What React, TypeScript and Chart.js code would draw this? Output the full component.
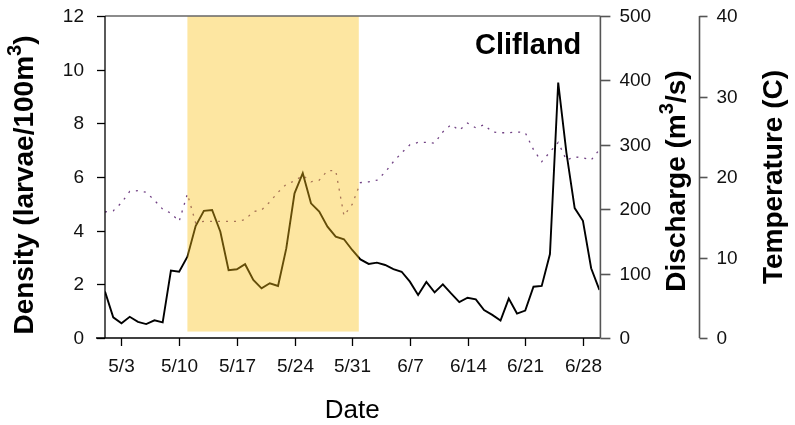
import { useEffect, useRef } from "react";
import { Chart, registerables } from "chart.js";

Chart.register(...registerables);

// Daily series starting on 5/1 (day 0) through 6/30 (day 60)
const density = [
  1.73, 0.77, 0.55, 0.79, 0.6, 0.52, 0.66, 0.58, 2.51, 2.47,
  3.03, 4.17, 4.74, 4.77, 3.96, 2.53, 2.56, 2.75, 2.16, 1.85,
  2.04, 1.94, 3.34, 5.39, 6.14, 5.02, 4.71, 4.15, 3.78, 3.68,
  3.28, 2.93, 2.76, 2.81, 2.72, 2.57, 2.47, 2.1, 1.6, 2.09,
  1.7, 2.0, 1.66, 1.34, 1.5, 1.44, 1.04, 0.86, 0.65, 1.47,
  0.91, 1.02, 1.91, 1.94, 3.13, 9.52, 6.9, 4.84, 4.37, 2.6,
  1.79,
];

const temperature = [
  15.65, 15.8, 16.8, 18.2, 18.3, 18.1, 17.1, 16.0, 15.5, 14.5,
  17.9, 14.3, 14.5, 14.5, 14.5, 14.5, 14.5, 14.7, 15.7, 15.9,
  16.9, 18.1, 19.1, 19.5, 20.2, 19.4, 19.6, 20.8, 20.8, 15.2,
  16.6, 19.3, 19.4, 19.6, 20.6, 21.9, 23.0, 24.0, 24.3, 24.3,
  24.2, 25.6, 26.5, 25.8, 26.7, 26.1, 26.5, 25.6, 25.5, 25.5,
  25.6, 25.5, 23.4, 21.9, 23.1, 24.3, 22.1, 22.5, 22.4, 22.1,
  23.4,
];

const dateTickDays = [2, 9, 16, 23, 30, 37, 44, 51, 58];
const dateTickLabels = ["5/3", "5/10", "5/17", "5/24", "5/31", "6/7", "6/14", "6/21", "6/28"];
const densityTicks = [0, 2, 4, 6, 8, 10, 12];
const dischargeTicks = [0, 100, 200, 300, 400, 500];
const temperatureTicks = [0, 10, 20, 30, 40];

// Sampling window highlighted behind the series (days since 5/1, discharge units)
const windowStartDay = 10;
const windowEndDay = 30.8;
const windowBottom = 10;
const windowTop = 500;

const siteName = "Clifland";

const FONT = '"Liberation Sans", Arial, Helvetica, sans-serif';

type Part = { text: string; sup?: boolean };

function drawVerticalTitle(
  ctx: CanvasRenderingContext2D,
  parts: Part[],
  baselineX: number,
  centerY: number,
  size: number
) {
  const supSize = size * 0.72;
  ctx.save();
  ctx.translate(baselineX, centerY);
  ctx.rotate(-Math.PI / 2);
  ctx.textAlign = "left";
  ctx.textBaseline = "alphabetic";
  ctx.fillStyle = "#000";
  let total = 0;
  const widths: number[] = [];
  for (const p of parts) {
    ctx.font = `bold ${p.sup ? supSize : size}px ${FONT}`;
    const w = ctx.measureText(p.text).width;
    widths.push(w);
    total += w;
  }
  let x = -total / 2;
  parts.forEach((p, i) => {
    ctx.font = `bold ${p.sup ? supSize : size}px ${FONT}`;
    ctx.fillText(p.text, x, p.sup ? -size * 0.42 : 0);
    x += widths[i];
  });
  ctx.restore();
}

const windowShade = {
  id: "windowShade",
  afterDatasetsDraw(chart: any) {
    const { ctx, scales } = chart;
    const x0 = scales.x.getPixelForValue(windowStartDay);
    const x1 = scales.x.getPixelForValue(windowEndDay);
    const y0 = scales.yQ.getPixelForValue(windowTop);
    const y1 = scales.yQ.getPixelForValue(windowBottom);
    ctx.save();
    ctx.fillStyle = "rgba(250, 192, 20, 0.4)";
    ctx.fillRect(x0, y0, x1 - x0, y1 - y0);
    ctx.restore();
  },
};

const axesPainter = {
  id: "axesPainter",
  afterDraw(chart: any) {
    const { ctx, scales, chartArea } = chart;
    const { left, right, top, bottom } = chartArea;
    ctx.save();
    ctx.lineCap = "butt";

    // frame: top edge in grey
    ctx.strokeStyle = "#666";
    ctx.lineWidth = 1.5;
    ctx.beginPath();
    ctx.moveTo(left, top);
    ctx.lineTo(right + 1, top);
    ctx.stroke();

    // left density axis
    ctx.strokeStyle = "#000";
    ctx.lineWidth = 1.3;
    ctx.beginPath();
    ctx.moveTo(left, top);
    ctx.lineTo(left, bottom);
    ctx.stroke();
    ctx.font = `19px ${FONT}`;
    ctx.fillStyle = "#111";
    ctx.textAlign = "right";
    ctx.textBaseline = "middle";
    for (const t of densityTicks) {
      const y = Math.round(scales.y.getPixelForValue(t)) + 0.5;
      ctx.beginPath();
      ctx.moveTo(left - 8, y);
      ctx.lineTo(left, y);
      ctx.stroke();
      ctx.fillText(String(t), left - 21, y);
    }

    // date axis
    ctx.beginPath();
    ctx.moveTo(left - 9, bottom);
    ctx.lineTo(right + 1, bottom);
    ctx.stroke();
    ctx.textAlign = "center";
    ctx.textBaseline = "alphabetic";
    dateTickDays.forEach((d, i) => {
      const x = Math.round(scales.x.getPixelForValue(d)) + 0.5;
      ctx.beginPath();
      ctx.moveTo(x, bottom);
      ctx.lineTo(x, bottom + 8);
      ctx.stroke();
      ctx.fillText(dateTickLabels[i], x, bottom + 34);
    });

    // discharge axis
    const qx = right + 1;
    ctx.strokeStyle = "#555";
    ctx.lineWidth = 1.6;
    ctx.beginPath();
    ctx.moveTo(qx, top);
    ctx.lineTo(qx, bottom);
    ctx.stroke();
    ctx.textAlign = "left";
    ctx.textBaseline = "middle";
    for (const t of dischargeTicks) {
      const y = Math.round(scales.yQ.getPixelForValue(t)) + 0.5;
      ctx.beginPath();
      ctx.moveTo(qx, y);
      ctx.lineTo(qx + 10, y);
      ctx.stroke();
      ctx.fillText(String(t), qx + 19, y);
    }

    // temperature axis
    const tx = 699.5;
    ctx.beginPath();
    ctx.moveTo(tx, top);
    ctx.lineTo(tx, bottom);
    ctx.stroke();
    for (const t of temperatureTicks) {
      const y = Math.round(scales.yT.getPixelForValue(t)) + 0.5;
      ctx.beginPath();
      ctx.moveTo(tx, y);
      ctx.lineTo(tx + 8, y);
      ctx.stroke();
      ctx.fillText(String(t), tx + 17, y);
    }

    // axis titles
    drawVerticalTitle(
      ctx,
      [{ text: "Density (larvae/100m" }, { text: "3", sup: true }, { text: ")" }],
      33,
      185,
      28
    );
    drawVerticalTitle(
      ctx,
      [{ text: "Discharge (m" }, { text: "3", sup: true }, { text: "/s)" }],
      685,
      181,
      28
    );
    drawVerticalTitle(ctx, [{ text: "Temperature (C)" }], 782, 177, 28);

    ctx.fillStyle = "#000";
    ctx.font = `26px ${FONT}`;
    ctx.textAlign = "center";
    ctx.textBaseline = "alphabetic";
    ctx.fillText("Date", (left + right) / 2, 418);

    ctx.font = `bold 29px ${FONT}`;
    ctx.textAlign = "left";
    ctx.fillText(siteName, 475, 54);

    ctx.restore();
  },
};

export default function App() {
  const canvasRef = useRef<HTMLCanvasElement | null>(null);

  useEffect(() => {
    const canvas = canvasRef.current;
    if (!canvas) return;
    const chart = new Chart(canvas, {
      type: "line",
      data: {
        datasets: [
          {
            label: "Density",
            data: density.map((v, i) => ({ x: i, y: v })),
            borderColor: "#000",
            borderWidth: 1.9,
            pointRadius: 0,
            tension: 0,
            yAxisID: "y",
          },
          {
            label: "Temperature",
            data: temperature.map((v, i) => ({ x: i, y: v })),
            borderColor: "rgba(105, 55, 125, 0.95)",
            borderWidth: 1.3,
            borderDash: [2, 6],
            pointRadius: 0,
            tension: 0,
            yAxisID: "yT",
          },
        ],
      },
      options: {
        animation: false,
        responsive: false,
        devicePixelRatio: 1,
        layout: { padding: { left: 105, right: 195.6, top: 16, bottom: 87 } },
        plugins: { legend: { display: false }, tooltip: { enabled: false } },
        scales: {
          x: { type: "linear", min: 0, max: 60, display: false },
          y: { type: "linear", min: 0, max: 12, display: false },
          yQ: { type: "linear", position: "right", min: 0, max: 500, display: false },
          yT: { type: "linear", position: "right", min: 0, max: 40, display: false },
        },
      },
      plugins: [windowShade, axesPainter],
    });
    return () => chart.destroy();
  }, []);

  return (
    <div style={{ position: "fixed", left: 0, top: 0, width: 795, height: 425, background: "#fff" }}>
      <canvas ref={canvasRef} width={795} height={425} style={{ display: "block" }} />
    </div>
  );
}
